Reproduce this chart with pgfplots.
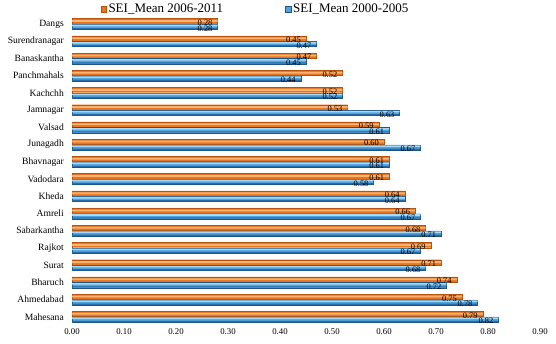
\documentclass[border=0pt]{standalone}
\usepackage{fontspec}
\setmainfont{Liberation Serif}
\usepackage{pgfplots}
\usepackage{pgfplotstable}
\pgfplotsset{compat=1.18}
\definecolor{orM}{HTML}{FDB271}
\definecolor{orB}{HTML}{E8741E}
\definecolor{orD}{HTML}{B5520E}
\definecolor{blT}{HTML}{A8DAF6}
\definecolor{blM}{HTML}{4FA3E0}
\definecolor{blD}{HTML}{1F5485}
\definecolor{blB}{HTML}{2A6CA8}
\pgfplotstableread{
idx orange blue
17 0.28 0.28
16 0.45 0.47
15 0.47 0.45
14 0.52 0.44
13 0.52 0.52
12 0.53 0.63
11 0.59 0.61
10 0.60 0.67
9 0.61 0.61
8 0.61 0.58
7 0.64 0.64
6 0.66 0.67
5 0.68 0.71
4 0.69 0.67
3 0.71 0.68
2 0.74 0.72
1 0.75 0.78
0 0.79 0.82
}\data
\begin{document}
\begin{tikzpicture}
\begin{axis}[name=ax, xbar, scale only axis, width=468pt, height=310pt,
  xmin=0, xmax=0.9, ymin=-0.5, ymax=17.5,
  axis line style={draw=none}, major tick length=0pt,
  xtick={0,0.1,0.2,0.3,0.4,0.5,0.6,0.7,0.8,0.9},
  xticklabel style={font=\fontsize{8.8}{10}\selectfont, /pgf/number format/.cd, fixed, fixed zerofill, precision=2, assume math mode=true},
  ytick={0,...,17},
  yticklabels={Mahesana,Ahmedabad,Bharuch,Surat,Rajkot,Sabarkantha,Amreli,Kheda,Vadodara,Bhavnagar,Junagadh,Valsad,Jamnagar,Kachchh,Panchmahals,Banaskantha,Surendranagar,Dangs},
  yticklabel style={font=\fontsize{9.6}{11}\selectfont, anchor=east, inner sep=0pt, xshift=-8pt},
  legend columns=2,
  legend style={draw=none, fill=none, at={(0.392,1.02)}, anchor=center, font=\fontsize{13}{15}\selectfont, /tikz/every even column/.append style={column sep=60pt}},
  legend image code/.code={\draw[#1] (0pt,-2.8pt) rectangle (5.6pt,2.8pt);},
  lbl/.style={draw=none, fill=none, nodes near coords={\pgfmathprintnumber[fixed,fixed zerofill,precision=2,assume math mode=true]{\pgfplotspointmeta}},
    every node near coord/.append style={anchor=east, font=\fontsize{8.4}{9}\selectfont, inner sep=0pt, xshift=-5pt, yshift=-1.5pt, text=black}},
]
% orange series
\addplot[bar width=5.2pt, bar shift=2.8pt, draw=orD, line width=0.3pt, fill=orB] table[x=orange, y=idx] {\data};
\addlegendentry{SEI\_Mean 2006-2011}
% blue series
\addplot[bar width=5.2pt, bar shift=-2.8pt, draw=blD, line width=0.3pt, fill=blM] table[x=blue, y=idx] {\data};
\addlegendentry{SEI\_Mean 2000-2005}
% highlights
\addplot[forget plot, bar width=1.8pt, bar shift=3.0pt, draw=none, fill=orM] table[x=orange, y=idx] {\data};
\addplot[forget plot, bar width=1.6pt, bar shift=-1.5pt, draw=none, fill=blT] table[x=blue, y=idx] {\data};
\addplot[forget plot, bar width=1.2pt, bar shift=-4.6pt, draw=none, fill=blB] table[x=blue, y=idx] {\data};
% value labels
\addplot[forget plot, bar width=5.2pt, bar shift=2.8pt, lbl] table[x=orange, y=idx] {\data};
\addplot[forget plot, bar width=5.2pt, bar shift=-2.8pt, lbl] table[x=blue, y=idx] {\data};
\end{axis}
\pgfresetboundingbox
\path ([xshift=-72pt,yshift=-18.4pt]ax.south west) rectangle ([xshift=16pt,yshift=15.4pt]ax.north east);
\end{tikzpicture}
\end{document}
